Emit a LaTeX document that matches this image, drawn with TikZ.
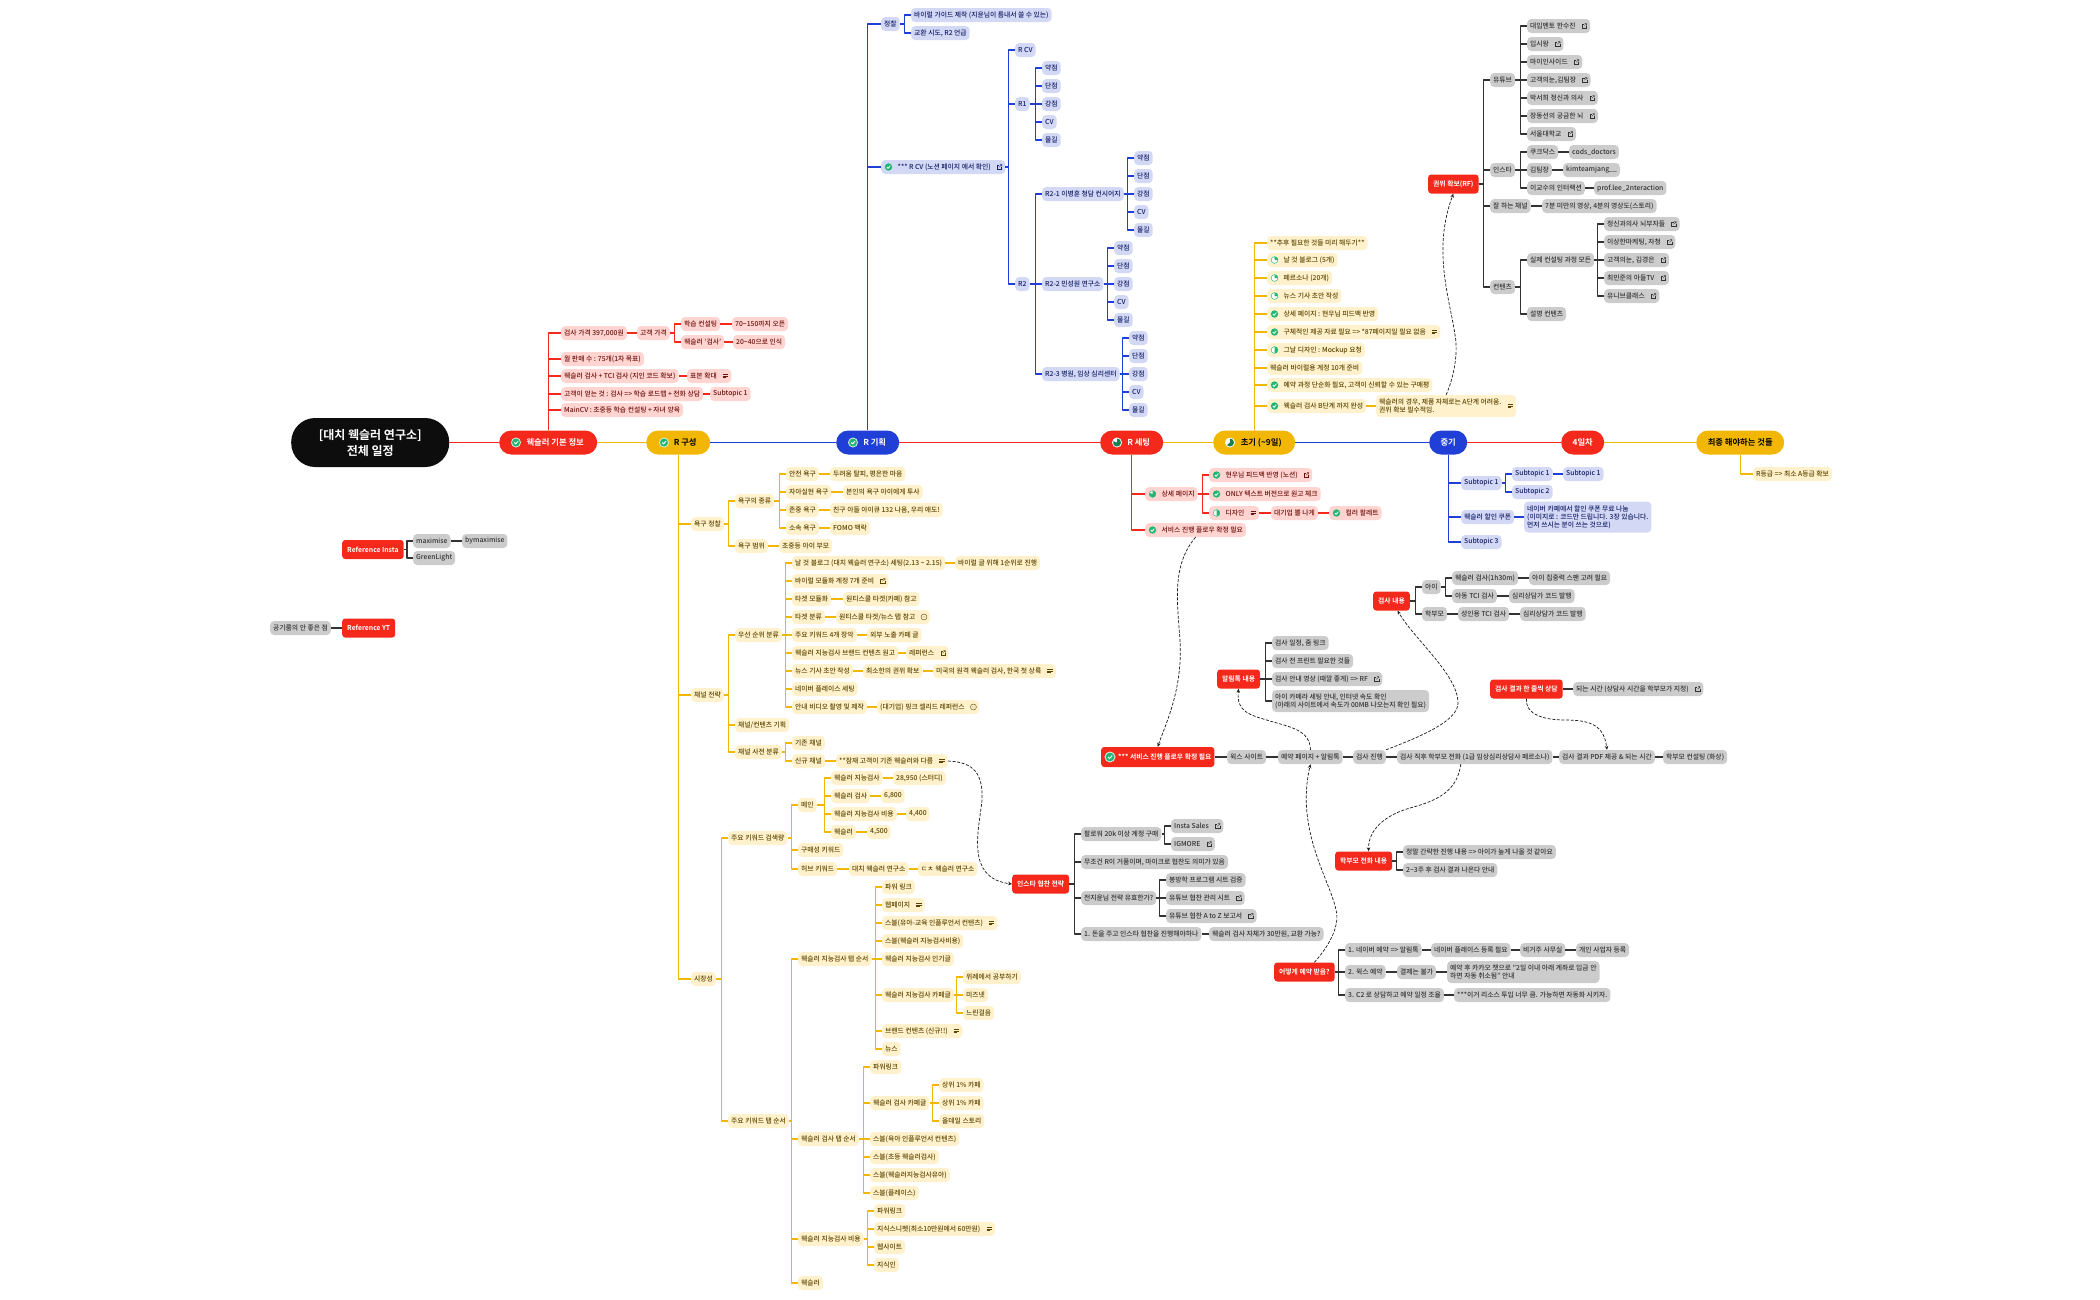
\documentclass[tikz,border=0pt]{standalone}
\usepackage{fontspec}
\usepackage{xcolor}
\usetikzlibrary{arrows.meta}
\setmainfont{Noto Sans CJK KR Medium}[BoldFont={Noto Sans CJK KR Bold}]
\definecolor{redmain}{HTML}{F4291B}
\definecolor{yelmain}{HTML}{F2B705}
\definecolor{blumain}{HTML}{1F3FD6}
\definecolor{redtint}{HTML}{FFD4D1}
\definecolor{yeltint}{HTML}{FFF1CC}
\definecolor{blutint}{HTML}{D3D8F5}
\definecolor{graytint}{HTML}{CCCCCC}
\definecolor{redtext}{HTML}{6E120C}
\definecolor{yeltext}{HTML}{5C4500}
\definecolor{blutext}{HTML}{141F66}
\definecolor{graytext}{HTML}{333333}
\definecolor{okgreen}{HTML}{22B573}
\newcommand{\lpad}{\hspace*{13.5pt}}
\newcommand{\rpad}{\hspace*{11.5pt}}
\tikzset{
    leaf/.style={anchor=west, rounded corners=4pt, minimum height=14pt, inner xsep=3pt, inner ysep=0pt, align=left, font=\fontsize{6.8}{8}\selectfont},
    redleaf/.style={leaf, fill=redtint, text=redtext},
    yelleaf/.style={leaf, fill=yeltint, text=yeltext},
    bluleaf/.style={leaf, fill=blutint, text=blutext},
    grayleaf/.style={leaf, fill=graytint, text=graytext},
    redtag/.style={anchor=west, rounded corners=3pt, minimum height=19pt, inner xsep=5pt, inner ysep=0pt, fill=redmain, text=white, font=\fontsize{6.8}{8}\bfseries\selectfont},
    mainnode/.style={anchor=west, rounded corners=12pt, minimum height=24pt, inner sep=0pt, font=\fontsize{8.3}{10}\bfseries\selectfont},
    rootnode/.style={anchor=west, rounded corners=24pt, minimum height=49pt, minimum width=158pt, inner sep=0pt, align=center, fill=black!95, text=white, font=\fontsize{12}{16}\bfseries\selectfont},
    redlink/.style={draw=redmain, line width=1.2pt, line join=round},
    yellink/.style={draw=yelmain, line width=1.2pt, line join=round},
    blulink/.style={draw=blumain, line width=1.2pt, line join=round},
    graylink/.style={draw=black!80, line width=1.1pt, line join=round},
    jump/.style={draw=black!90, line width=.7pt, dash pattern=on 3pt off 1.6pt, -{Stealth[length=4pt,width=3.5pt]}},
    okmark/.pic={\fill[okgreen] (0,0) circle (3.7); \draw[white,line width=.8pt] (-1.7,0) -- (-.4,1.3) -- (1.8,-1.3);},
    bigok/.pic={\fill[white!80!okgreen] (0,0) circle (5); \fill[okgreen] (0,0) circle (4); \draw[white,line width=.9pt] (-1.8,0) -- (-.4,1.4) -- (2,-1.4);},
    pics/ringmark/.style={code={\fill[white] (0,0) circle (3.7); \draw[okgreen,line width=.5pt] (0,0) circle (3.4); \fill[okgreen] (0,0) -- (0,-3.4) arc[start angle=-90,delta angle=#1,radius=3.4] -- cycle;}},
    pics/bigring/.style={code={\fill[white] (0,0) circle (5); \fill[okgreen!70!black] (0,0) -- (0,-4) arc[start angle=-90,delta angle=#1,radius=4] -- cycle;}},
    linkmark/.pic={\draw[line width=.35pt] (-.2,-2) -- (-2.2,-2) -- (-2.2,2.2) -- (2.2,2.2) -- (2.2,.2); \draw[line width=.35pt] (-.3,.3) -- (2.4,-2.4) (.5,-2.4) -- (2.4,-2.4) -- (2.4,-.5);},
    notemark/.pic={\draw[line width=.45pt] (-2.6,-1.6) -- (2.6,-1.6) (-2.6,0) -- (2.6,0) (-2.6,1.6) -- (.6,1.6);},
    minusmark/.pic={\draw[line width=.4pt] (0,0) circle (3) (-1.5,0) -- (1.5,0);},
}
\begin{document}
\begin{tikzpicture}[x=1pt,y=-1pt]
\useasboundingbox (0,0) rectangle (2100,1299);

% main row
\node[rootnode] (root) at (291,442.5) {[대치 웩슬러 연구소]\\전체 일정};
\node[mainnode, minimum width=98pt, fill=redmain, text=white] (wb) at (499,442.5) {\hspace*{14pt}웩슬러 기본 정보};
\node[mainnode, minimum width=64pt, fill=yelmain, text=black] (rg) at (646,442.5) {\hspace*{14pt}R 구성};
\node[mainnode, minimum width=63pt, fill=blumain, text=white] (rp) at (836,442.5) {\hspace*{14pt}R 기획};
\node[mainnode, minimum width=63pt, fill=redmain, text=white] (rs) at (1100,442.5) {\hspace*{14pt}R 세팅};
\node[mainnode, minimum width=82pt, fill=yelmain, text=black] (cho) at (1213,442.5) {\hspace*{14pt}초기 (\textasciitilde{}9일)};
\node[mainnode, minimum width=38pt, fill=blumain, text=white] (mid) at (1429,442.5) {중기};
\node[mainnode, minimum width=43pt, fill=redmain, text=white] (dayf) at (1561,442.5) {4일차};
\node[mainnode, minimum width=88pt, fill=yelmain, text=black] (fin) at (1696,442.5) {최종 해야하는 것들};
\pic at ([xshift=17pt]wb.west) {bigok};
\pic at ([xshift=18pt]rg.west) {bigok};
\pic at ([xshift=17pt]rp.west) {bigok};
\pic at ([xshift=17pt]rs.west) {bigring=290};
\pic at ([xshift=17pt]cho.west) {bigring=230};
\draw[redlink] (root.east) -- (wb.west);
\draw[yellink] (wb.east) -- (rg.west);
\draw[blulink] (rg.east) -- (rp.west);
\draw[redlink] (rp.east) -- (rs.west);
\draw[yellink] (rs.east) -- (cho.west);
\draw[blulink] (cho.east) -- (mid.west);
\draw[redlink] (mid.east) -- (dayf.west);
\draw[yellink] (dayf.east) -- (fin.west);

% basic info
\node[redleaf] (wa1) at (561,333) {검사 가격 397,000원};
\node[redleaf] (wa2) at (637,333) {고객 가격};
\node[redleaf] (wa3) at (681,324) {학습 컨설팅};
\node[redleaf] (wa4) at (732,324) {70\textasciitilde{}150까지 오픈};
\node[redleaf] (wa5) at (681,342) {웩슬러 '검사'};
\node[redleaf] (wa6) at (733,342) {20\textasciitilde{}40으로 인식};
\node[redleaf] (wa7) at (561,359) {월 판매 수 : 75개(1차 목표)};
\node[redleaf] (wa8) at (561,376) {웩슬러 검사 + TCI 검사 (지인 코드 확보)};
\node[redleaf] (wa9) at (687,376) {표본 확대\rpad};
\node[redleaf] (wa10) at (561,394) {고객이 얻는 것 : 검사 => 학습 로드맵 + 전화 상담};
\node[redleaf] (wa11) at (710,394) {Subtopic 1};
\node[redleaf] (wa12) at (561,410) {MainCV : 초중등 학습 컨설팅 + 자녀 양육};
\foreach \b in {wa1,wa7,wa8,wa10,wa12}
    \draw[redlink] (wb.north) |- (\b.west);
\foreach \a/\b in {wa1/wa2,wa2/wa3,wa2/wa5,wa3/wa4,wa5/wa6,wa8/wa9,wa10/wa11}
    \draw[redlink] (\a.east) -| ([xshift=-6.5pt]\b.west) -- (\b.west);

% references
\node[redtag] (xa) at (342,549.5) {Reference Insta};
\node[grayleaf] (xb) at (413,541) {maximise};
\node[grayleaf] (xc) at (462,541) {bymaximise};
\node[grayleaf] (xd) at (413,558) {GreenLight};
\node[redtag] (xe) at (342,628) {Reference YT};
\node[grayleaf] (xf) at (270,628) {공기룸의 안 좋은 점};
\foreach \a/\b in {xa/xb,xa/xd,xb/xc}
    \draw[graylink] (\a.east) -| ([xshift=-6pt]\b.west) -- (\b.west);
\draw[graylink] (xe.west) -- (xf.east);

% R 구성
\node[yelleaf] (ya) at (691,524) {욕구 정찰};
\node[yelleaf] (yb) at (735,501) {욕구의 종류};
\node[yelleaf] (yc1) at (786,474) {안전 욕구};
\node[yelleaf] (yd1) at (830,474) {두려움 탈피, 평온한 마음};
\node[yelleaf] (yc2) at (786,492) {자아실현 욕구};
\node[yelleaf] (yd2) at (843,492) {본인의 욕구 아이에게 투사};
\node[yelleaf] (yc3) at (786,510) {존중 욕구};
\node[yelleaf] (yd3) at (830,510) {친구 아들 아이큐 132 나옴, 우리 애도!};
\node[yelleaf] (yc4) at (786,528) {소속 욕구};
\node[yelleaf] (yd4) at (830,528) {FOMO 맥락};
\node[yelleaf] (ye) at (735,546) {욕구 범위};
\node[yelleaf] (yf) at (779,546) {초중등 아이 부모};
\node[yelleaf] (za) at (691,695) {채널 전략};
\node[yelleaf] (zb) at (735,635) {우선 순위 분류};
\node[yelleaf] (zc1) at (792,563) {날 것 블로그 (대치 웩슬러 연구소) 세팅(2.13 \textasciitilde{} 2.15)};
\node[yelleaf] (zd1) at (955,563) {바이럴 글 위해 1순위로 진행};
\node[yelleaf] (zc2) at (792,581) {바이럴 모듈화 계정 7개 준비\rpad};
\node[yelleaf] (zc3) at (792,599) {타겟 모듈화};
\node[yelleaf] (zd3) at (843,599) {원티스쿨 타겟(카페) 참고};
\node[yelleaf] (zc4) at (792,617) {타겟 분류};
\node[yelleaf] (zd4) at (836,617) {원티스쿨 타겟/뉴스 탭 참고\rpad};
\node[yelleaf] (zc5) at (792,635) {주요 키워드 4개 장악};
\node[yelleaf] (zd5) at (867,635) {외부 노출 카페 글};
\node[yelleaf] (zc6) at (792,653) {웩슬러 지능검사 브랜드 컨텐츠 원고};
\node[yelleaf] (zd6) at (906,653) {레퍼런스\rpad};
\node[yelleaf] (zc7) at (792,671) {뉴스 기사 초안 작성};
\node[yelleaf] (zd7) at (863,671) {최소한의 권위 확보};
\node[yelleaf] (ze7) at (933,671) {미국의 원격 웩슬러 검사, 한국 첫 상륙\rpad};
\node[yelleaf] (zc8) at (792,689) {네이버 플레이스 세팅};
\node[yelleaf] (zc9) at (792,707) {안내 비디오 촬영 및 제작};
\node[yelleaf] (zd9) at (877,707) {(대기업) 핑크 셀리드 레퍼런스\rpad};
\node[yelleaf] (zf) at (735,725) {채널/컨텐츠 기획};
\node[yelleaf] (zg) at (735,752) {채널 사전 분류};
\node[yelleaf] (zh1) at (792,743) {기존 채널};
\node[yelleaf] (zh2) at (792,761) {신규 채널};
\node[yelleaf] (zi) at (836,761) {**잠재 고객이 기존 웩슬러와 다름\rpad};
\node[yelleaf] (sa) at (691,979) {시장성};
\node[yelleaf] (sb) at (728,838) {주요 키워드 검색량};
\node[yelleaf] (sc) at (798,805) {메인};
\node[yelleaf] (sd1) at (831,778) {웩슬러 지능검사};
\node[yelleaf] (se1) at (893,778) {28,950 (스터디)};
\node[yelleaf] (sd2) at (831,796) {웩슬러 검사};
\node[yelleaf] (se2) at (881,796) {6,800};
\node[yelleaf] (sd3) at (831,814) {웩슬러 지능검사 비용};
\node[yelleaf] (se3) at (906,814) {4,400};
\node[yelleaf] (sd4) at (831,832) {웩슬러};
\node[yelleaf] (se4) at (867,832) {4,500};
\node[yelleaf] (sf) at (798,850) {구매성 키워드};
\node[yelleaf] (sg) at (798,869) {허브 키워드};
\node[yelleaf] (sh) at (849,869) {대치 웩슬러 연구소};
\node[yelleaf] (si) at (918,869) {ㄷㅊ 웩슬러 연구소};
\node[yelleaf] (tb) at (728,1121) {주요 키워드 탭 순서};
\node[yelleaf] (tc) at (798,959) {웩슬러 지능검사 탭 순서};
\node[yelleaf] (td1) at (882,887) {파워 링크};
\node[yelleaf] (td2) at (882,905) {웹페이지\rpad};
\node[yelleaf] (td3) at (882,923) {스블(유아-교육 인플루언서 컨텐츠)\rpad};
\node[yelleaf] (td4) at (882,941) {스블(웩슬러 지능검사비용)};
\node[yelleaf] (td5) at (882,959) {웩슬러 지능검사 인기글};
\node[yelleaf] (td6) at (882,995) {웩슬러 지능검사 카페글};
\node[yelleaf] (td7) at (882,1031) {브랜드 컨텐츠 (신규!!)\rpad};
\node[yelleaf] (td8) at (882,1049) {뉴스};
\node[yelleaf] (te1) at (963,977) {위례에서 공부하기};
\node[yelleaf] (te2) at (963,995) {미즈넷};
\node[yelleaf] (te3) at (963,1013) {느린걸음};
\node[yelleaf] (uc) at (798,1139) {웩슬러 검사 탭 순서};
\node[yelleaf] (ud1) at (870,1067) {파워링크};
\node[yelleaf] (ud2) at (870,1103) {웩슬러 검사 카페글};
\node[yelleaf] (ud3) at (870,1139) {스블(육아 인플루언서 컨텐츠)};
\node[yelleaf] (ud4) at (870,1157) {스블(초등 웩슬러검사)};
\node[yelleaf] (ud5) at (870,1175) {스블(웩슬러지능검사유아)};
\node[yelleaf] (ud6) at (870,1193) {스블(플레이스)};
\node[yelleaf] (ue1) at (939,1085) {상위 1\% 카페};
\node[yelleaf] (ue2) at (939,1103) {상위 1\% 카페};
\node[yelleaf] (ue3) at (939,1121) {올데일 스토리};
\node[yelleaf] (vc) at (798,1239) {웩슬러 지능검사 비용};
\node[yelleaf] (vd1) at (874,1211) {파워링크};
\node[yelleaf] (vd2) at (874,1229) {지식스니펫(최소10만원에서 60만원)\rpad};
\node[yelleaf] (vd3) at (874,1247) {웹사이트};
\node[yelleaf] (vd4) at (874,1265) {지식인};
\node[yelleaf] (wc) at (798,1283) {웩슬러};
\foreach \b in {ya,za,sa}
    \draw[yellink] (rg.south) |- (\b.west);
\foreach \a/\b in {ya/yb,ya/ye,yb/yc1,yb/yc2,yb/yc3,yb/yc4,yc1/yd1,yc2/yd2,yc3/yd3,yc4/yd4,ye/yf,
    za/zb,za/zf,za/zg,zb/zc1,zb/zc2,zb/zc3,zb/zc4,zb/zc5,zb/zc6,zb/zc7,zb/zc8,zb/zc9,
    zc1/zd1,zc3/zd3,zc4/zd4,zc5/zd5,zc6/zd6,zc7/zd7,zd7/ze7,zc9/zd9,zg/zh1,zg/zh2,zh2/zi,
    sa/sb,sa/tb,sb/sc,sb/sf,sb/sg,sc/sd1,sc/sd2,sc/sd3,sc/sd4,sd1/se1,sd2/se2,sd3/se3,sd4/se4,sg/sh,sh/si,
    tb/tc,tb/uc,tb/vc,tb/wc,tc/td1,tc/td2,tc/td3,tc/td4,tc/td5,tc/td6,tc/td7,tc/td8,td6/te1,td6/te2,td6/te3,
    uc/ud1,uc/ud2,uc/ud3,uc/ud4,uc/ud5,uc/ud6,ud2/ue1,ud2/ue2,ud2/ue3,vc/vd1,vc/vd2,vc/vd3,vc/vd4}
    \draw[yellink] (\a.east) -| ([xshift=-6.5pt]\b.west) -- (\b.west);

% R 기획
\node[bluleaf] (ba) at (881,24) {정찰};
\node[bluleaf] (ba1) at (911,15) {바이럴 가이드 제작 (지윤님이 틈내서 쓸 수 있는)};
\node[bluleaf] (ba2) at (911,33) {교환 시도, R2 언급};
\node[bluleaf] (bb) at (881,167) {\lpad*** R CV (노션 페이지 에서 확인)\rpad};
\node[bluleaf] (bc) at (1015,50) {R CV};
\node[bluleaf] (bd) at (1015,104) {R1};
\node[bluleaf] (be) at (1015,284) {R2};
\node[bluleaf] (bf) at (1042,194) {R2-1 이병훈 청담 컨시어지};
\node[bluleaf] (bg) at (1042,284) {R2-2 민성원 연구소};
\node[bluleaf] (bh) at (1042,374) {R2-3 병원, 임상 심리센터};
\foreach \pre/\x/\y in {bd/1042/104,bf/1134/194,bg/1114/284,bh/1129/374}{
    \node[bluleaf] (\pre1) at (\x,\y-36) {약점};
    \node[bluleaf] (\pre2) at (\x,\y-18) {단점};
    \node[bluleaf] (\pre3) at (\x,\y) {강점};
    \node[bluleaf] (\pre4) at (\x,\y+18) {CV};
    \node[bluleaf] (\pre5) at (\x,\y+36) {물길};
    \foreach \k in {1,...,5}
        \draw[blulink] (\pre.east) -| ([xshift=-6.5pt]\pre\k.west) -- (\pre\k.west);
}
\foreach \b in {ba,bb}
    \draw[blulink] (rp.north) |- (\b.west);
\foreach \a/\b in {ba/ba1,ba/ba2,bb/bc,bb/bd,bb/be,be/bf,be/bg,be/bh}
    \draw[blulink] (\a.east) -| ([xshift=-6.5pt]\b.west) -- (\b.west);

% R 세팅
\node[redleaf] (ra1) at (1145,494) {\lpad 상세 페이지};
\node[redleaf] (ra2) at (1209,475) {\lpad 현우님 피드백 반영 (노션)\rpad};
\node[redleaf] (ra3) at (1209,494) {\lpad ONLY 텍스트 버전으로 원고 체크};
\node[redleaf] (ra4) at (1209,513) {\lpad 디자인\rpad};
\node[redleaf] (ra5) at (1271,513) {대기업 뽈 나게};
\node[redleaf] (ra6) at (1329,513) {\lpad 컬러 팔레트};
\node[redleaf] (ra7) at (1145,530) {\lpad 서비스 진행 플로우 확정 필요};
\foreach \b in {ra1,ra7}
    \draw[redlink] (rs.south) |- (\b.west);
\foreach \a/\b in {ra1/ra2,ra1/ra3,ra1/ra4,ra4/ra5,ra5/ra6}
    \draw[redlink] (\a.east) -| ([xshift=-6.5pt]\b.west) -- (\b.west);

% 초기
\node[yelleaf] (ca1) at (1267,243) {**추후 필요한 것들 미리 해두기**};
\node[yelleaf] (ca2) at (1267,260) {\lpad 날 것 블로그 (5개)};
\node[yelleaf] (ca3) at (1267,278) {\lpad 페르소나 (20개)};
\node[yelleaf] (ca4) at (1267,296) {\lpad 뉴스 기사 초안 작성};
\node[yelleaf] (ca5) at (1267,314) {\lpad 상세 페이지 : 현우님 피드백 반영};
\node[yelleaf] (ca6) at (1267,332) {\lpad 구체적인 제공 자료 필요 => *87페이지일 필요 없음\rpad};
\node[yelleaf] (ca7) at (1267,350) {\lpad 그날 디자인 : Mockup 요청};
\node[yelleaf] (ca8) at (1267,368) {웩슬러 바이럴용 계정 10개 준비};
\node[yelleaf] (ca9) at (1267,385) {\lpad 예약 과정 단순화 필요, 고객이 신뢰할 수 있는 구매평};
\node[yelleaf] (ca10) at (1267,406) {\lpad 웩슬러 검사 B단계 까지 완성};
\node[yelleaf, minimum height=22pt] (ca11) at (1376,406) {웩슬러의 경우, 제품 자체로는 A단계 어려움.\rpad\\권위 확보 필수적임.};
\foreach \k in {1,...,10}
    \draw[yellink] (cho.north) |- (ca\k.west);
\draw[yellink] (ca10.east) -- (ca11.west);

% 중기, 4일차, 최종
\node[bluleaf] (ma1) at (1461,483) {Subtopic 1};
\node[bluleaf] (ma2) at (1512,474) {Subtopic 1};
\node[bluleaf] (ma3) at (1563,474) {Subtopic 1};
\node[bluleaf] (ma4) at (1512,492) {Subtopic 2};
\node[bluleaf] (ma5) at (1461,517) {웩슬러 할인 쿠폰};
\node[bluleaf, minimum height=31pt] (ma6) at (1524,517) {네이버 카페에서 할인 쿠폰 무료 나눔\\(이미지로 : 코드만 드립니다. 3장 있습니다.\\먼저 쓰시는 분이 쓰는 것으로)};
\node[bluleaf] (ma7) at (1461,542) {Subtopic 3};
\node[yelleaf] (fa1) at (1753,474) {R등급 => 최소 A등급 확보};
\foreach \b in {ma1,ma5,ma7}
    \draw[blulink] (mid.south) |- (\b.west);
\foreach \a/\b in {ma1/ma2,ma1/ma4,ma2/ma3,ma5/ma6}
    \draw[blulink] (\a.east) -| ([xshift=-6.5pt]\b.west) -- (\b.west);
\draw[yellink] (fin.south) |- (fa1.west);

% 권위 확보
\node[redtag] (ka) at (1428,184) {권위 확보(RF)};
\node[grayleaf] (kb) at (1490,80) {유튜브};
\node[grayleaf] (kb1) at (1527,26) {대입멘토 한수진\rpad};
\node[grayleaf] (kb2) at (1527,44) {입시왕\rpad};
\node[grayleaf] (kb3) at (1527,62) {마이인사이드\rpad};
\node[grayleaf] (kb4) at (1527,80) {고객의눈,김팀장\rpad};
\node[grayleaf] (kb5) at (1527,98) {박서희 정신과 의사\rpad};
\node[grayleaf] (kb6) at (1527,116) {장동선의 궁금한 뇌\rpad};
\node[grayleaf] (kb7) at (1527,134) {서울대학교\rpad};
\node[grayleaf] (kc) at (1490,170) {인스타};
\node[grayleaf] (kc1) at (1527,152) {쿠크닥스};
\node[grayleaf] (kd1) at (1569,152) {cods\_doctors};
\node[grayleaf] (kc2) at (1527,170) {김팀장};
\node[grayleaf] (kd2) at (1563,170) {kimteamjang\_\_};
\node[grayleaf] (kc3) at (1527,188) {이교수의 인터랙션};
\node[grayleaf] (kd3) at (1594,188) {prof.lee\_2nteraction};
\node[grayleaf] (ke) at (1490,206) {잘 하는 채널};
\node[grayleaf] (kf) at (1542,206) {7분 미만의 영상, 4분의 영상도(스토리)};
\node[grayleaf] (kg) at (1490,287) {컨텐츠};
\node[grayleaf] (kh) at (1527,260) {실제 컨설팅 과정 모든};
\node[grayleaf] (kh1) at (1604,224) {정신과의사 뇌부자들\rpad};
\node[grayleaf] (kh2) at (1604,242) {이상한마케팅, 자청\rpad};
\node[grayleaf] (kh3) at (1604,260) {고객의눈, 김경은\rpad};
\node[grayleaf] (kh4) at (1604,278) {최민준의 아들TV\rpad};
\node[grayleaf] (kh5) at (1604,296) {유니브클래스\rpad};
\node[grayleaf] (ki) at (1527,314) {설명 컨텐츠};
\foreach \a/\b in {ka/kb,ka/kc,ka/ke,ka/kg,kb/kb1,kb/kb2,kb/kb3,kb/kb4,kb/kb5,kb/kb6,kb/kb7,
    kc/kc1,kc/kc2,kc/kc3,kc1/kd1,kc2/kd2,kc3/kd3,ke/kf,kg/kh,kg/ki,kh/kh1,kh/kh2,kh/kh3,kh/kh4,kh/kh5}
    \draw[graylink] (\a.east) -| ([xshift=-6.5pt]\b.west) -- (\b.west);

% 검사 내용
\node[redtag] (la) at (1373,601) {검사 내용};
\node[grayleaf] (lb) at (1422,587) {아이};
\node[grayleaf] (lc1) at (1452,578) {웩슬러 검사(1h30m)};
\node[grayleaf] (ld1) at (1529,578) {아이 집중력 스팬 고려 필요};
\node[grayleaf] (lc2) at (1452,596) {아동 TCI 검사};
\node[grayleaf] (ld2) at (1509,596) {심리상담가 코드 발행};
\node[grayleaf] (le) at (1422,614) {학부모};
\node[grayleaf] (lf) at (1458,614) {성인용 TCI 검사};
\node[grayleaf] (lg) at (1520,614) {심리상담가 코드 발행};
\foreach \a/\b in {la/lb,la/le,lb/lc1,lb/lc2,lc1/ld1,lc2/ld2,le/lf,lf/lg}
    \draw[graylink] (\a.east) -| ([xshift=-6.5pt]\b.west) -- (\b.west);

% 알림톡 내용
\node[redtag] (na) at (1217,679) {알림톡 내용};
\node[grayleaf] (nb1) at (1272,643) {검사 일정, 줌 링크};
\node[grayleaf] (nb2) at (1272,661) {검사 전 프린트 필요한 것들};
\node[grayleaf] (nb3) at (1272,679) {검사 안내 영상 (때깔 좋게) => RF\rpad};
\node[grayleaf, minimum height=22pt] (nb4) at (1272,701) {아이 카메라 세팅 안내, 인터넷 속도 확인\\(아래의 사이트에서 속도가 00MB 나오는지 확인 필요)};
\foreach \b in {nb1,nb2,nb3,nb4}
    \draw[graylink] (na.east) -| ([xshift=-6.5pt]\b.west) -- (\b.west);

% 서비스 진행 플로우
\node[redtag, minimum height=20pt, inner xsep=3pt] (pa) at (1101,757) {\hspace*{14pt}*** 서비스 진행 플로우 확정 필요};
\node[grayleaf] (pb) at (1227,757) {윅스 사이트};
\node[grayleaf] (pc) at (1278,757) {예약 페이지 + 알림톡};
\node[grayleaf] (pd) at (1353,757) {검사 진행};
\node[grayleaf] (pe) at (1397,757) {검사 직후 학부모 전화 (1급 임상심리상담사 페르소나)};
\node[grayleaf] (pf) at (1559,757) {검사 결과 PDF 제공 \& 되는 시간};
\node[grayleaf] (pg) at (1663,757) {학부모 컨설팅 (화상)};
\foreach \a/\b in {pa/pb,pb/pc,pc/pd,pd/pe,pe/pf,pf/pg}
    \draw[graylink] (\a.east) -- (\b.west);
\node[redtag] (oa) at (1490,689) {검사 결과 한 줄씩 상담};
\node[grayleaf] (ob) at (1573,689) {되는 시간 (상담사 시간을 학부모가 지정)\rpad};
\draw[graylink] (oa.east) -- (ob.west);
\node[redtag] (qa) at (1335,861) {학부모 전화 내용};
\node[grayleaf] (qb) at (1403,852) {정말 간략한 진행 내용 => 아이가 높게 나올 것 같아요};
\node[grayleaf] (qc) at (1403,870) {2\textasciitilde{}3주 후 검사 결과 나온다 안내};
\foreach \b in {qb,qc}
    \draw[graylink] (qa.east) -| ([xshift=-6.5pt]\b.west) -- (\b.west);

% 인스타 협찬
\node[redtag] (ia) at (1012,884) {인스타 협찬 전략};
\node[grayleaf] (ib) at (1081,834) {팔로워 20k 이상 계정 구매};
\node[grayleaf] (ic1) at (1171,826) {Insta Sales\rpad};
\node[grayleaf] (ic2) at (1171,844) {IGMORE\rpad};
\node[grayleaf] (id) at (1081,862) {무조건 R이 거품이며, 마이크로 협찬도 의미가 있음};
\node[grayleaf] (ie) at (1081,898) {전지윤님 전략 유효한가?};
\node[grayleaf] (ig1) at (1166,880) {봉방학 프로그램 시트 검증};
\node[grayleaf] (ig2) at (1166,898) {유튜브 협찬 관리 시트\rpad};
\node[grayleaf] (ig3) at (1166,916) {유튜브 협찬 A to Z 보고서\rpad};
\node[grayleaf] (ih) at (1081,934) {1. 돈을 주고 인스타 협찬을 진행해야하나};
\node[grayleaf] (ij) at (1209,934) {웩슬러 검사 자체가 30만원, 교환 가능?};
\foreach \a/\b in {ia/ib,ia/id,ia/ie,ia/ih,ib/ic1,ib/ic2,ie/ig1,ie/ig2,ie/ig3,ih/ij}
    \draw[graylink] (\a.east) -| ([xshift=-6.5pt]\b.west) -- (\b.west);

% 어떻게 예약 받음
\node[redtag] (ea) at (1274,972) {어떻게 예약 받음?};
\node[grayleaf] (eb1) at (1345,950) {1. 네이버 예약 => 알림톡};
\node[grayleaf] (ec1) at (1431,950) {네이버 플레이스 등록 필요};
\node[grayleaf] (ec2) at (1520,950) {비거주 사무실};
\node[grayleaf] (ec3) at (1576,950) {개인 사업자 등록};
\node[grayleaf] (eb2) at (1345,972) {2. 윅스 예약};
\node[grayleaf] (ed1) at (1397,972) {결제는 불가};
\node[grayleaf, minimum height=22pt] (ed2) at (1447,972) {예약 후 카카오 챗으로 "2일 이내 아래 계좌로 입금 안\\하면 자동 취소됨" 안내};
\node[grayleaf] (eb3) at (1345,995) {3. C2 로 상담하고 예약 일정 조율};
\node[grayleaf] (ee) at (1454,995) {***이거 리소스 투입 너무 큼. 가능하면 자동화 시키자.};
\foreach \a/\b in {ea/eb1,ea/eb2,ea/eb3,eb1/ec1,ec1/ec2,ec2/ec3,eb2/ed1,ed1/ed2,eb3/ee}
    \draw[graylink] (\a.east) -| ([xshift=-6.5pt]\b.west) -- (\b.west);

% icons
\foreach \n in {bb,ra2,ra3,ra6,ra7,ca5,ca6,ca9,ca10}
    \pic at ([xshift=7.5pt]\n.west) {okmark};
\pic[scale=1.1] at ([xshift=9pt]pa.west) {bigok};
\foreach \n/\v in {ca2/90,ca3/90,ca4/90,ca7/180,ra4/180,ra1/290}
    \pic at ([xshift=7.5pt]\n.west) {ringmark=\v};
\foreach \n in {bb}
    \pic[blutext] at ([xshift=-6pt]\n.east) {linkmark};
\pic[redtext] at ([xshift=-6pt]ra2.east) {linkmark};
\foreach \n in {zc2,zd6}
    \pic[yeltext] at ([xshift=-6pt]\n.east) {linkmark};
\foreach \n in {kb1,kb2,kb3,kb4,kb5,kb6,kb7,kh1,kh2,kh3,kh4,kh5,nb3,ob,ic1,ic2,ig2,ig3}
    \pic[graytext] at ([xshift=-6pt]\n.east) {linkmark};
\foreach \n in {wa9,ra4}
    \pic[redtext] at ([xshift=-6pt]\n.east) {notemark};
\foreach \n in {ze7,zi,td2,td3,td7,vd2,ca6,ca11}
    \pic[yeltext] at ([xshift=-6pt]\n.east) {notemark};
\foreach \n in {zd4,zd9}
    \pic[yeltext] at ([xshift=-6pt]\n.east) {minusmark};

% dashed jumps
\draw[jump] (ra7.south) .. controls (1172,565) and (1177,600) .. (1180,640) .. controls (1183,690) and (1165,725) .. (pa.north);
\draw[jump] (zi.east) .. controls (975,762) and (983,775) .. (982,800) .. controls (979,830) and (965,878) .. (ia.west);
\draw[jump] (pc.north) .. controls (1310,730) and (1290,727) .. (1270,721) .. controls (1250,715) and (1236,712) .. (na.south);
\draw[jump] ([xshift=10pt]ea.north) .. controls (1330,945) and (1340,925) .. (1336,910) .. controls (1330,880) and (1295,830) .. (pc.south);
\draw[jump] (pd.north east) .. controls (1425,735) and (1458,720) .. (1458,703) .. controls (1458,675) and (1415,640) .. ([xshift=6pt]la.south);
\draw[jump] (oa.south) .. controls (1525,715) and (1545,720) .. (1565,720) .. controls (1590,720) and (1604,725) .. (pf.north);
\draw[jump] ([xshift=-14pt]pe.south) .. controls (1457,790) and (1440,800) .. (1410,808) .. controls (1385,815) and (1368,830) .. ([xshift=5pt]qa.north);
\draw[jump] (ca11.north) .. controls (1455,375) and (1458,350) .. (1455,335) .. controls (1450,300) and (1432,250) .. (ka.south);
\end{tikzpicture}
\end{document}
